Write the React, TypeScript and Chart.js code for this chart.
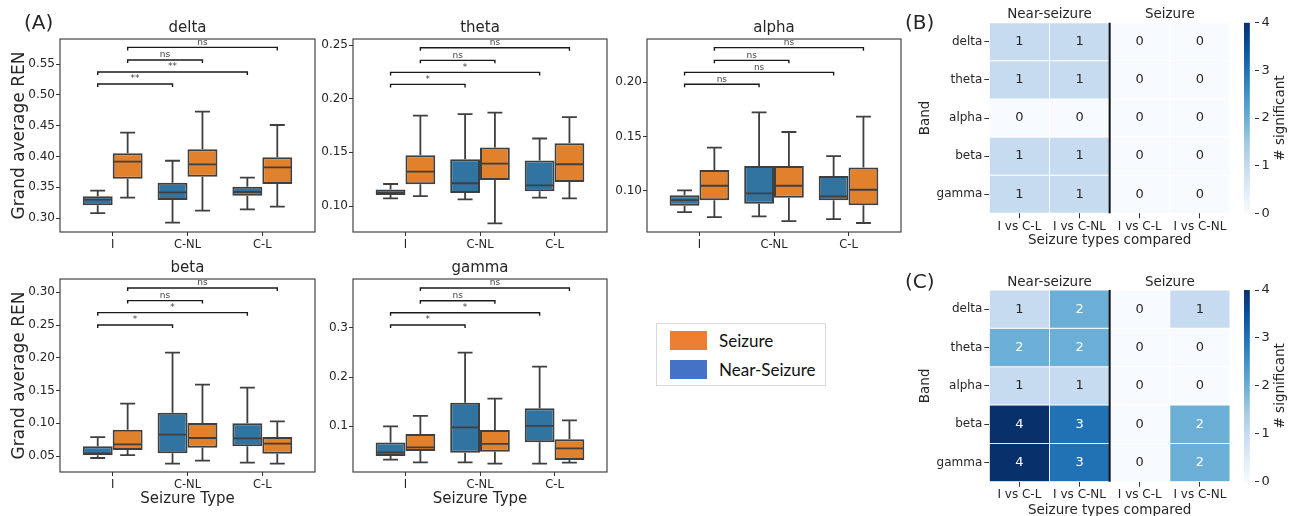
import React, { useEffect, useRef } from 'react';
import { Chart, registerables } from 'chart.js';

Chart.register(...registerables);

const FONT = "'DejaVu Sans', 'Liberation Sans', sans-serif";
Chart.defaults.font.family = FONT;
Chart.defaults.color = '#262626';

// ---------------- DATA ----------------
const seizureTypes = ['I', 'C-NL', 'C-L'];
const hueLabels = ['Near-Seizure', 'Seizure'];

// per seizure type: [min whisker, q1, median, q3, max whisker]
const deltaNear = [[0.308, 0.3206, 0.3298, 0.3352, 0.3444], [0.2924, 0.3292, 0.3417, 0.3574, 0.393], [0.3141, 0.3363, 0.3422, 0.3509, 0.3655]];
const deltaSeiz = [[0.333, 0.3638, 0.3915, 0.405, 0.4385], [0.3119, 0.3671, 0.3871, 0.4115, 0.4726], [0.3184, 0.3552, 0.3822, 0.3985, 0.451]];
const thetaNear = [[0.1072, 0.1103, 0.1124, 0.1153, 0.1205], [0.1062, 0.1121, 0.1212, 0.1436, 0.1856], [0.1078, 0.1137, 0.1193, 0.1423, 0.1629]];
const thetaSeiz = [[0.1093, 0.1202, 0.1321, 0.1473, 0.1843], [0.0838, 0.1243, 0.1395, 0.1545, 0.1871], [0.1072, 0.1224, 0.1389, 0.1585, 0.1828]];
const alphaNear = [[0.0803, 0.0862, 0.0914, 0.0957, 0.1003], [0.0763, 0.088, 0.0975, 0.1228, 0.1723], [0.0738, 0.0911, 0.0948, 0.1135, 0.132]];
const alphaSeiz = [[0.0757, 0.0911, 0.1046, 0.1191, 0.1397], [0.072, 0.0935, 0.1046, 0.1228, 0.1542], [0.0702, 0.0865, 0.1009, 0.1215, 0.1683]];
const betaNear = [[0.047, 0.051, 0.0541, 0.0648, 0.079], [0.0383, 0.0541, 0.0826, 0.1162, 0.2078], [0.0398, 0.0648, 0.077, 0.0999, 0.1544]];
const betaSeiz = [[0.0515, 0.0592, 0.0678, 0.0902, 0.1299], [0.0429, 0.0627, 0.0775, 0.1004, 0.159], [0.0383, 0.0536, 0.0688, 0.079, 0.103]];
const gammaNear = [[0.0324, 0.0399, 0.0473, 0.0669, 0.1], [0.027, 0.0466, 0.098, 0.148, 0.2493], [0.0243, 0.0676, 0.1007, 0.1365, 0.221]];
const gammaSeiz = [[0.027, 0.05, 0.0574, 0.0845, 0.121], [0.0243, 0.0486, 0.0642, 0.0926, 0.1561], [0.0264, 0.0318, 0.0554, 0.0736, 0.1122]];

// comparisons: [typeA, hueA, typeB, hueB]
const comparisons = [[0, 0, 1, 0], [0, 0, 2, 0], [0, 1, 1, 1], [0, 1, 2, 1]];
const deltaSig = ['**', '**', 'ns', 'ns'];
const thetaSig = ['*', '*', 'ns', 'ns'];
const alphaSig = ['ns', 'ns', 'ns', 'ns'];
const betaSig = ['*', '*', 'ns', 'ns'];
const gammaSig = ['*', '*', 'ns', 'ns'];
const deltaBracketY = [0.5175, 0.537, 0.5565, 0.577];
const thetaBracketY = [0.2133, 0.2245, 0.2357, 0.2475];
const alphaBracketY = [0.1982, 0.2092, 0.2203, 0.232];
const betaBracketY = [0.2501, 0.2689, 0.2873, 0.3066];
const gammaBracketY = [0.3054, 0.3304, 0.3547, 0.3804];

const deltaTicks = ['0.30', '0.35', '0.40', '0.45', '0.50', '0.55'];
const thetaTicks = ['0.10', '0.15', '0.20', '0.25'];
const alphaTicks = ['0.10', '0.15', '0.20'];
const betaTicks = ['0.05', '0.10', '0.15', '0.20', '0.25', '0.30'];
const gammaTicks = ['0.1', '0.2', '0.3'];
const deltaRange = [0.2773, 0.5906];
const thetaRange = [0.0758, 0.2556];
const alphaRange = [0.0619, 0.24];
const betaRange = [0.0256, 0.3203];
const gammaRange = [0.0073, 0.3988];
const xRange = [-0.704, 2.704];

const bands = ['delta', 'theta', 'alpha', 'beta', 'gamma'];
const compCols = ['I vs C-L', 'I vs C-NL', 'I vs C-L', 'I vs C-NL'];
const compGroups = ['Near-seizure', 'Seizure'];
const countsB = [[1, 1, 0, 0], [1, 1, 0, 0], [0, 0, 0, 0], [1, 1, 0, 0], [1, 1, 0, 0]];
const countsC = [[1, 2, 0, 1], [2, 2, 0, 0], [1, 1, 0, 0], [4, 3, 0, 2], [4, 3, 0, 2]];
const cbarTicks = [0, 1, 2, 3, 4];

// ---------------- STYLE ----------------
const BLUE = '#3274a1';
const ORANGE = '#e1812c';
const LINE = '#3f3f3f';
const TXT = '#262626';
const BLUES = ['#f7fbff', '#c6dbef', '#6baed6', '#2171b5', '#08306b'];
const BLUES_STOPS = ['#f7fbff', '#deebf7', '#c6dbef', '#9ecae1', '#6baed6', '#4292c6', '#2171b5', '#08519c', '#08306b'];

type BoxPanel = {
  title: string;
  near: number[][];
  seiz: number[][];
  sig: string[];
  bracketY: number[];
  ticks: string[];
  range: number[];
  yWidth: number;
  yTitle: boolean;
  xTitle: boolean;
  titlePad: { top: number; bottom: number };
  xHeight: number;
};

function boxConfig(p: BoxPanel): any {
  const extras = {
    id: 'boxExtras',
    afterDatasetsDraw(chart: any) {
      const { ctx } = chart;
      const y = chart.scales.y;
      const stats = [p.near, p.seiz];
      ctx.save();
      ctx.strokeStyle = LINE;
      ctx.lineWidth = 1.8;
      stats.forEach((arr, d) => {
        const meta = chart.getDatasetMeta(d);
        arr.forEach((s, i) => {
          const bar: any = meta.data[i];
          const cx = bar.x;
          const w = bar.width;
          const [lo, q1, med, q3, hi] = s.map((v) => y.getPixelForValue(v));
          ctx.beginPath();
          ctx.moveTo(cx, q3); ctx.lineTo(cx, hi);
          ctx.moveTo(cx, q1); ctx.lineTo(cx, lo);
          ctx.moveTo(cx - w / 4, hi); ctx.lineTo(cx + w / 4, hi);
          ctx.moveTo(cx - w / 4, lo); ctx.lineTo(cx + w / 4, lo);
          ctx.moveTo(cx - w / 2 + 1, med); ctx.lineTo(cx + w / 2 - 1, med);
          ctx.stroke();
        });
      });
      // significance brackets
      ctx.strokeStyle = '#1a1a1a';
      ctx.lineWidth = 1.4;
      ctx.fillStyle = '#444';
      ctx.font = `9px ${FONT}`;
      ctx.textAlign = 'center';
      ctx.textBaseline = 'bottom';
      comparisons.forEach(([ga, ha, gb, hb], k) => {
        const xa = (chart.getDatasetMeta(ha).data[ga] as any).x;
        const xb = (chart.getDatasetMeta(hb).data[gb] as any).x;
        const yy = y.getPixelForValue(p.bracketY[k]);
        ctx.beginPath();
        ctx.moveTo(xa, yy + 3); ctx.lineTo(xa, yy); ctx.lineTo(xb, yy); ctx.lineTo(xb, yy + 3);
        ctx.stroke();
        ctx.fillText(p.sig[k], (xa + xb) / 2, yy - 0.5);
      });
      ctx.restore();
    },
    afterDraw(chart: any) {
      const { ctx, chartArea: a } = chart;
      ctx.save();
      ctx.strokeStyle = '#333';
      ctx.lineWidth = 1.1;
      ctx.strokeRect(a.left, a.top, a.right - a.left, a.bottom - a.top);
      ctx.restore();
    },
  };
  const mk = (arr: number[][], color: string, label: string) => ({
    label,
    data: arr.map((s, i) => ({ x: i, y: [s[1], s[3]] })),
    backgroundColor: color,
    borderColor: LINE,
    borderWidth: 2,
    borderSkipped: false,
    categoryPercentage: 0.8,
    barPercentage: 1,
  });
  return {
    type: 'bar',
    data: { datasets: [mk(p.near, BLUE, hueLabels[0]), mk(p.seiz, ORANGE, hueLabels[1])] },
    options: {
      animation: false,
      responsive: false,
      maintainAspectRatio: false,
      events: [],
      layout: { padding: { left: 0, right: 5, top: 0, bottom: 0 } },
      plugins: {
        legend: { display: false },
        tooltip: { enabled: false },
        title: {
          display: true,
          text: p.title,
          fullSize: false,
          color: TXT,
          font: { size: 15, weight: 'normal' },
          padding: p.titlePad,
        },
      },
      scales: {
        x: {
          type: 'linear',
          min: xRange[0],
          max: xRange[1],
          offset: false,
          grid: { offset: false, drawOnChartArea: false, drawTicks: true, tickLength: 4, color: '#333' },
          border: { display: false },
          afterBuildTicks: (s: any) => { s.ticks = seizureTypes.map((_, i) => ({ value: i })); },
          ticks: {
            callback: (_v: any, i: number) => seizureTypes[i],
            font: { size: 11.5 },
            color: TXT,
            padding: 2,
            maxRotation: 0,
            autoSkip: false,
          },
          title: {
            display: p.xTitle,
            text: 'Seizure Type',
            color: TXT,
            font: { size: 15 },
            padding: { top: 0, bottom: 8 },
          },
          afterFit: (s: any) => { s.height = p.xHeight; },
        },
        y: {
          type: 'linear',
          min: p.range[0],
          max: p.range[1],
          grid: { drawOnChartArea: false, drawTicks: true, tickLength: 4, color: '#333' },
          border: { display: false },
          afterBuildTicks: (s: any) => { s.ticks = p.ticks.map((t) => ({ value: parseFloat(t) })); },
          ticks: {
            callback: (_v: any, i: number) => p.ticks[i],
            font: { size: 12 },
            color: TXT,
            padding: 1,
            autoSkip: false,
          },
          title: {
            display: p.yTitle,
            text: 'Grand average REN',
            color: TXT,
            font: { size: 17 },
            padding: { top: 9, bottom: 0 },
          },
          afterFit: (s: any) => { s.width = p.yWidth; },
        },
      },
    },
    plugins: [extras],
  };
}

function heatConfig(counts: number[][], padTop: number, xHeight: number, xTitlePad: number): any {
  const extras = {
    id: 'heatExtras',
    afterDatasetsDraw(chart: any) {
      const { ctx, chartArea: a } = chart;
      const x = chart.scales.x;
      const y = chart.scales.y;
      ctx.save();
      ctx.font = `13px ${FONT}`;
      ctx.textAlign = 'center';
      ctx.textBaseline = 'middle';
      counts.forEach((row, r) => {
        row.forEach((c, ci) => {
          ctx.fillStyle = c >= 2 ? '#ffffff' : TXT;
          ctx.fillText(String(c), x.getPixelForValue(ci), y.getPixelForValue(r + 0.5));
        });
      });
      // separator
      const sx = (x.getPixelForValue(1) + x.getPixelForValue(2)) / 2;
      ctx.strokeStyle = '#111';
      ctx.lineWidth = 2;
      ctx.beginPath();
      ctx.moveTo(sx, a.top);
      ctx.lineTo(sx, a.bottom);
      ctx.stroke();
      // group headers
      ctx.fillStyle = TXT;
      ctx.font = `13.5px ${FONT}`;
      ctx.textBaseline = 'middle';
      const g1 = (x.getPixelForValue(0) + x.getPixelForValue(1)) / 2;
      const g2 = (x.getPixelForValue(2) + x.getPixelForValue(3)) / 2;
      ctx.fillText(compGroups[0], g1, a.top - 8);
      ctx.fillText(compGroups[1], g2, a.top - 8);
      ctx.restore();
    },
  };
  return {
    type: 'bar',
    data: {
      labels: compCols,
      datasets: bands.map((b, r) => ({
        label: b,
        data: compCols.map(() => [r, r + 1]),
        backgroundColor: counts[r].map((c) => BLUES[c]),
        borderColor: '#ffffff',
        borderWidth: 0.8,
        borderSkipped: false,
        grouped: false,
        categoryPercentage: 1,
        barPercentage: 1,
      })),
    },
    options: {
      animation: false,
      responsive: false,
      maintainAspectRatio: false,
      events: [],
      layout: { padding: { left: 0, right: 10, top: padTop, bottom: 0 } },
      plugins: { legend: { display: false }, tooltip: { enabled: false } },
      scales: {
        x: {
          type: 'category',
          offset: true,
          grid: { offset: false, drawOnChartArea: false, drawTicks: true, tickLength: 5, color: '#333' },
          border: { display: false },
          ticks: { font: { size: 12 }, color: TXT, padding: 1, maxRotation: 0, autoSkip: false },
          title: {
            display: true,
            text: 'Seizure types compared',
            color: TXT,
            font: { size: 13.5 },
            padding: { top: 0, bottom: xTitlePad },
          },
          afterFit: (s: any) => { s.height = xHeight; },
        },
        y: {
          type: 'linear',
          min: 0,
          max: 5,
          reverse: true,
          grid: { drawOnChartArea: false, drawTicks: true, tickLength: 5, color: '#333' },
          border: { display: false },
          afterBuildTicks: (s: any) => { s.ticks = bands.map((_, i) => ({ value: i + 0.5 })); },
          ticks: { callback: (_v: any, i: number) => bands[i], font: { size: 12 }, color: TXT, padding: 2, autoSkip: false },
          title: { display: true, text: 'Band', color: TXT, font: { size: 13.5 }, padding: { top: 17, bottom: 0 } },
          afterFit: (s: any) => { s.width = 89.3; },
        },
      },
    },
    plugins: [extras],
  };
}

function cbarConfig(padTop: number, padBottom: number): any {
  const label = {
    id: 'cbarLabel',
    afterDraw(chart: any) {
      const { ctx, chartArea: a } = chart;
      ctx.save();
      ctx.translate(a.right + 25, (a.top + a.bottom) / 2);
      ctx.rotate(-Math.PI / 2);
      ctx.fillStyle = TXT;
      ctx.font = `13.5px ${FONT}`;
      ctx.textAlign = 'center';
      ctx.textBaseline = 'middle';
      ctx.fillText('# significant', 0, 0);
      ctx.restore();
    },
  };
  return {
    type: 'bar',
    data: {
      labels: [''],
      datasets: [{
        data: [[cbarTicks[0], cbarTicks[cbarTicks.length - 1]]],
        backgroundColor: (c: any) => {
          const chart = c.chart;
          if (!chart.chartArea) return BLUES[0];
          const y = chart.scales.y;
          const g = chart.ctx.createLinearGradient(0, y.getPixelForValue(cbarTicks[0]), 0, y.getPixelForValue(cbarTicks[cbarTicks.length - 1]));
          BLUES_STOPS.forEach((col, i) => g.addColorStop(i / (BLUES_STOPS.length - 1), col));
          return g;
        },
        borderWidth: 0,
        categoryPercentage: 1,
        barPercentage: 1,
      }],
    },
    options: {
      animation: false,
      responsive: false,
      maintainAspectRatio: false,
      events: [],
      layout: { padding: { left: 6, right: 0, top: padTop, bottom: padBottom } },
      plugins: { legend: { display: false }, tooltip: { enabled: false } },
      scales: {
        x: { display: false, offset: false },
        y: {
          position: 'right',
          min: cbarTicks[0],
          max: cbarTicks[cbarTicks.length - 1],
          afterBuildTicks: (s: any) => { s.ticks = cbarTicks.map((v) => ({ value: v })); },
          ticks: { font: { size: 13 }, color: TXT, padding: 2.5 },
          grid: { drawOnChartArea: false, drawTicks: true, tickLength: 4, color: '#333' },
          border: { display: false },
          afterFit: (s: any) => { s.width = 36; },
        },
      },
    },
    plugins: [label],
  };
}

function ChartBox({ left, top, width, height, config }: { left: number; top: number; width: number; height: number; config: () => any }) {
  const ref = useRef<HTMLCanvasElement>(null);
  useEffect(() => {
    const chart = new Chart(ref.current as HTMLCanvasElement, config());
    return () => chart.destroy();
  }, []);
  return (
    <canvas
      ref={ref}
      width={width}
      height={height}
      style={{ position: 'absolute', left, top, width, height, display: 'block' }}
    />
  );
}

const topPad = { top: 19, bottom: 2 };
const botPad = { top: 4.5, bottom: 1.5 };

const panels: { left: number; top: number; width: number; height: number; p: BoxPanel }[] = [
  { left: 0, top: 0, width: 320, height: 255, p: { title: 'delta', near: deltaNear, seiz: deltaSeiz, sig: deltaSig, bracketY: deltaBracketY, ticks: deltaTicks, range: deltaRange, yWidth: 60, yTitle: true, xTitle: false, titlePad: topPad, xHeight: 23 } },
  { left: 318, top: 0, width: 294, height: 255, p: { title: 'theta', near: thetaNear, seiz: thetaSeiz, sig: thetaSig, bracketY: thetaBracketY, ticks: thetaTicks, range: thetaRange, yWidth: 35, yTitle: false, xTitle: false, titlePad: topPad, xHeight: 23 } },
  { left: 612, top: 0, width: 294, height: 255, p: { title: 'alpha', near: alphaNear, seiz: alphaSeiz, sig: alphaSig, bracketY: alphaBracketY, ticks: alphaTicks, range: alphaRange, yWidth: 35, yTitle: false, xTitle: false, titlePad: topPad, xHeight: 23 } },
  { left: 0, top: 255, width: 320, height: 261, p: { title: 'beta', near: betaNear, seiz: betaSeiz, sig: betaSig, bracketY: betaBracketY, ticks: betaTicks, range: betaRange, yWidth: 60, yTitle: true, xTitle: true, titlePad: botPad, xHeight: 44 } },
  { left: 318, top: 255, width: 294, height: 261, p: { title: 'gamma', near: gammaNear, seiz: gammaSeiz, sig: gammaSig, bracketY: gammaBracketY, ticks: gammaTicks, range: gammaRange, yWidth: 35, yTitle: false, xTitle: true, titlePad: botPad, xHeight: 44 } },
];

const panelLabel = (text: string, left: number, top: number) => (
  <div style={{ position: 'absolute', left, top, fontFamily: FONT, fontSize: 20, lineHeight: '24px', color: TXT }}>{text}</div>
);

export default function App() {
  return (
    <div style={{ position: 'fixed', left: 0, top: 0, width: 1291, height: 516, background: '#ffffff', overflow: 'hidden' }}>
      {panels.map((c) => (
        <ChartBox key={c.p.title} left={c.left} top={c.top} width={c.width} height={c.height} config={() => boxConfig(c.p)} />
      ))}
      <ChartBox left={900} top={0} width={340} height={255} config={() => heatConfig(countsB, 22.7, 41.7, 6.4)} />
      <ChartBox left={1238} top={0} width={53} height={255} config={() => cbarConfig(22.7, 41.7)} />
      <ChartBox left={900} top={255} width={340} height={270} config={() => heatConfig(countsC, 35, 43.3, 6.9)} />
      <ChartBox left={1238} top={255} width={53} height={270} config={() => cbarConfig(35, 43.3)} />
      {panelLabel('(A)', 24, 10)}
      {panelLabel('(B)', 905, 10)}
      {panelLabel('(C)', 905, 269)}
      <div style={{ position: 'absolute', left: 656, top: 323, width: 170, height: 63, border: '1px solid #d9d9d9', boxSizing: 'border-box', background: '#fff' }}>
        <div style={{ position: 'absolute', left: 13, top: 7, width: 37, height: 19, background: '#ed7d31' }} />
        <div style={{ position: 'absolute', left: 13, top: 36, width: 37, height: 19, background: '#4472c4' }} />
        <div style={{ position: 'absolute', left: 62, top: 6, fontFamily: "Lato, 'Open Sans', sans-serif", fontSize: 17, lineHeight: '22px', color: '#111' }}>{hueLabels[1]}</div>
        <div style={{ position: 'absolute', left: 62, top: 35, fontFamily: "Lato, 'Open Sans', sans-serif", fontSize: 17, lineHeight: '22px', color: '#111' }}>{hueLabels[0]}</div>
      </div>
    </div>
  );
}
